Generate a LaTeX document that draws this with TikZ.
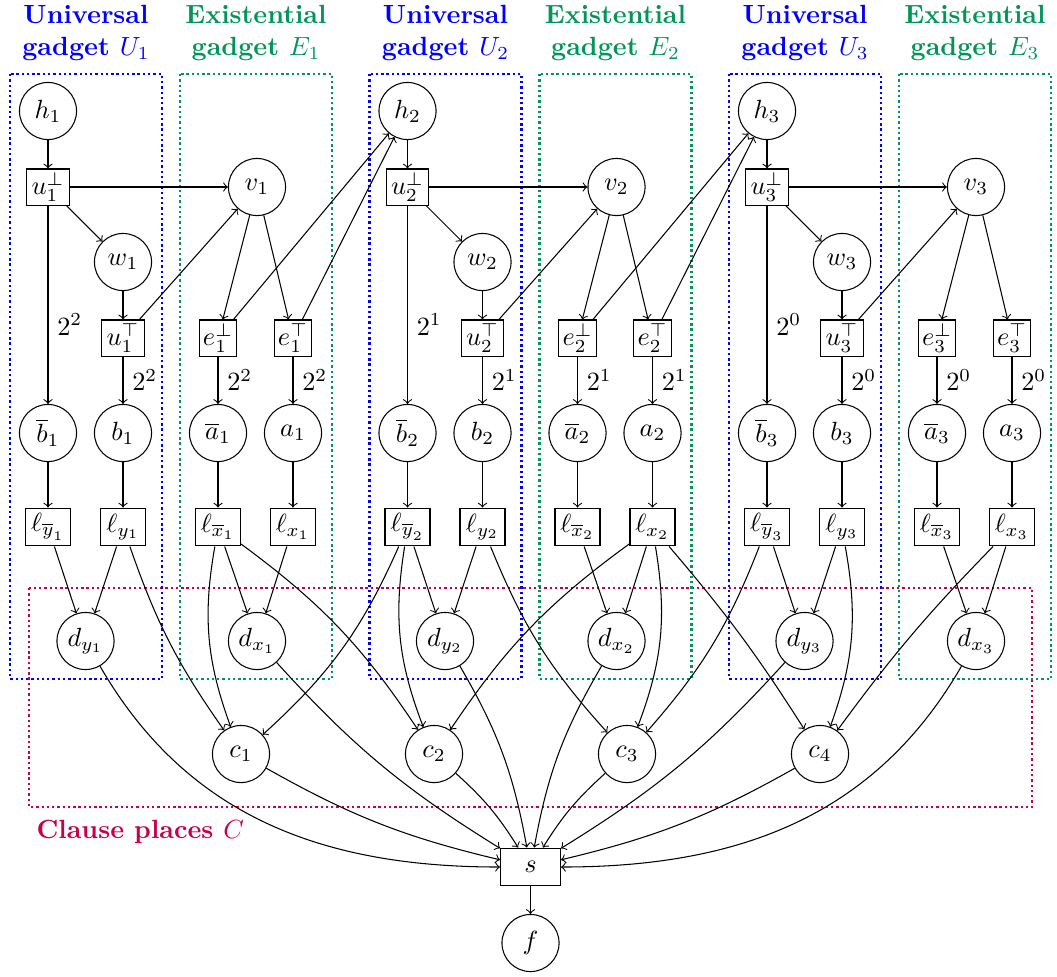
\documentclass[tikz,border=0pt]{standalone}
\usepackage{amsmath,amssymb}
\definecolor{ublue}{RGB}{0,0,255}
\definecolor{egreen}{RGB}{0,150,90}
\definecolor{cred}{RGB}{200,0,75}
\begin{document}
\begin{tikzpicture}[x=0.38pt,y=-0.38pt,>=to,
  circ/.style={circle,draw,minimum size=21.7pt,inner sep=0pt},
  ubox/.style={rectangle,draw,minimum width=16pt,minimum height=13.7pt,inner sep=0.5pt},
  ebox/.style={rectangle,draw,minimum width=14.4pt,minimum height=13.7pt,inner sep=0.5pt},
  lbox/.style={rectangle,draw,minimum width=17.1pt,minimum height=14.4pt,inner sep=0.5pt},
  sbox/.style={rectangle,draw,minimum width=22.8pt,minimum height=14.4pt,inner sep=0.5pt},
  arr/.style={->},
  grp/.style={line width=0.9pt,dash pattern=on 0.9pt off 1.1pt},
  hdr/.style={anchor=north,inner sep=0pt,align=center,font=\bfseries},
  wlab/.style={right}]
\useasboundingbox (0,0) rectangle (1057,976);
\draw[grp,cred] (29,588) rectangle (1032,807);
\node[anchor=base west,inner sep=0pt,text=cred,font=\bfseries] (cl) at (36,838) {Clause places $C$};
\foreach \k/\p in {1/2,2/1,3/0}{
  \pgfmathsetmacro{\gx}{359.5*(\k-1)}
  \draw[grp,ublue] (10+\gx,74) rectangle (162+\gx,679);
  \draw[grp,egreen] (180+\gx,74) rectangle (332+\gx,679);
  \node[hdr,text=ublue] (hu\k) at (86+\gx,5) {Universal\\gadget $U_{\k}$};
  \node[hdr,text=egreen] (he\k) at (256+\gx,5) {Existential\\gadget $E_{\k}$};
  \node[circ] (h\k) at (48+\gx,111) {$h_{\k}$};
  \node[ubox] (ub\k) at (48+\gx,187) {$u_{\k}^{\bot}$};
  \node[circ] (w\k) at (123+\gx,262) {$w_{\k}$};
  \node[ubox] (ut\k) at (123+\gx,338) {$u_{\k}^{\top}$};
  \node[circ] (bb\k) at (48+\gx,433) {$\overline{b}_{\k}$};
  \node[circ] (b\k) at (123+\gx,433) {$b_{\k}$};
  \node[lbox] (lyb\k) at (48+\gx,527) {$\ell_{\overline{y}_{\k}}$};
  \node[lbox] (ly\k) at (123+\gx,527) {$\ell_{y_{\k}}$};
  \node[circ] (dy\k) at (85.5+\gx,641) {$d_{y_{\k}}$};
  \node[circ] (v\k) at (257+\gx,187) {$v_{\k}$};
  \node[ebox] (eb\k) at (218+\gx,338) {$e_{\k}^{\bot}$};
  \node[ebox] (et\k) at (293+\gx,338) {$e_{\k}^{\top}$};
  \node[circ] (ab\k) at (218+\gx,433) {$\overline{a}_{\k}$};
  \node[circ] (a\k) at (293+\gx,433) {$a_{\k}$};
  \node[lbox] (lxb\k) at (218+\gx,527) {$\ell_{\overline{x}_{\k}}$};
  \node[lbox] (lx\k) at (293+\gx,527) {$\ell_{x_{\k}}$};
  \node[circ] (dx\k) at (257+\gx,641) {$d_{x_{\k}}$};
  % universal gadget edges
  \draw[arr] (h\k) -- (ub\k);
  \draw[arr] (ub\k) -- (v\k);
  \draw[arr] (ub\k) -- (w\k);
  \draw[arr] (ub\k) -- node[wlab,pos=0.6] {$2^{\p}$} (bb\k);
  \draw[arr] (w\k) -- (ut\k);
  \draw[arr] (ut\k) -- node[wlab] {$2^{\p}$} (b\k);
  \draw[arr] (ut\k) -- (v\k);
  \draw[arr] (bb\k) -- (lyb\k);
  \draw[arr] (b\k) -- (ly\k);
  \draw[arr] (lyb\k) -- (dy\k);
  \draw[arr] (ly\k) -- (dy\k);
  % existential gadget edges
  \draw[arr] (v\k) -- (eb\k);
  \draw[arr] (v\k) -- (et\k);
  \draw[arr] (eb\k) -- node[wlab] {$2^{\p}$} (ab\k);
  \draw[arr] (et\k) -- node[wlab] {$2^{\p}$} (a\k);
  \draw[arr] (ab\k) -- (lxb\k);
  \draw[arr] (a\k) -- (lx\k);
  \draw[arr] (lxb\k) -- (dx\k);
  \draw[arr] (lx\k) -- (dx\k);
}
% links to next universal gadget
\draw[arr] (eb1) -- (h2);
\draw[arr] (et1) -- (h2);
\draw[arr] (eb2) -- (h3);
\draw[arr] (et2) -- (h3);
% clause places
\node[circ] (c1) at (241,754) {$c_1$};
\node[circ] (c2) at (434,754) {$c_2$};
\node[circ] (c3) at (627,754) {$c_3$};
\node[circ] (c4) at (820,754) {$c_4$};
\node[sbox] (s) at (530.5,867) {$s$};
\node[circ] (f) at (530.5,943) {$f$};
% literal to clause edges
\draw[arr] (ly1) to[bend right=8] (c1);
\draw[arr] (lxb1) to[bend right=15] (c1);
\draw[arr] (lyb2) to[bend left=12] (c1);
\draw[arr] (lxb1) to[bend left=10] (c2);
\draw[arr] (lyb2) to[bend right=15] (c2);
\draw[arr] (lx2) to[bend right=10] (c2);
\draw[arr] (ly2) to[bend right=10] (c3);
\draw[arr] (lx2) to[bend left=15] (c3);
\draw[arr] (lyb3) to[bend left=10] (c3);
\draw[arr] (lx2) to[bend left=4] (c4);
\draw[arr] (ly3) to[bend left=15] (c4);
\draw[arr] (lx3) to[bend right=4] (c4);
% to s
\draw[arr] (dy1) to[out=-60,in=180] (s);
\draw[arr] (dx3) to[out=-120,in=0] (s);
\draw[arr] (dx1) to[bend right=8] (s);
\draw[arr] (dy2) to[bend left=10] (s);
\draw[arr] (dx2) to[bend right=10] (s);
\draw[arr] (dy3) to[bend left=8] (s);
\draw[arr] (c1) to[bend right=8] (s);
\draw[arr] (c2) to[bend left=8] (s);
\draw[arr] (c3) to[bend right=8] (s);
\draw[arr] (c4) to[bend left=8] (s);
\draw[arr] (s) -- (f);
\end{tikzpicture}
\end{document}
